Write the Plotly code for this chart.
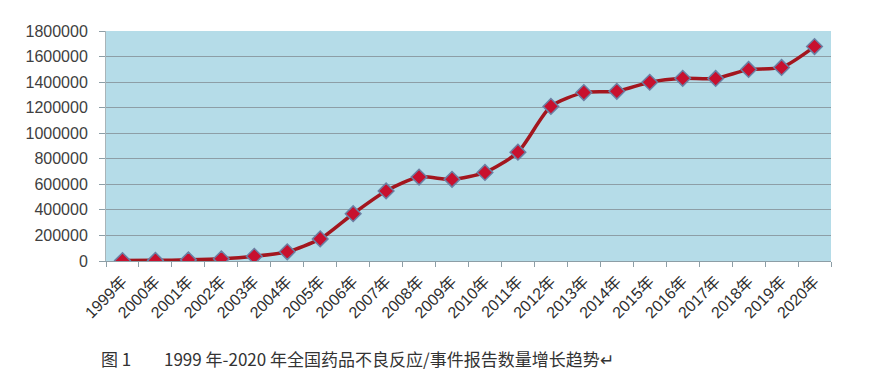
import plotly.graph_objects as go

years = ["1999年", "2000年", "2001年", "2002年", "2003年", "2004年", "2005年", "2006年",
         "2007年", "2008年", "2009年", "2010年", "2011年", "2012年", "2013年", "2014年",
         "2015年", "2016年", "2017年", "2018年", "2019年", "2020年"]
reports = [3000, 5000, 9000, 17000, 37000, 72000, 173000, 370000,
           548000, 657000, 639000, 693000, 852000, 1210000, 1318000, 1328000,
           1399000, 1430000, 1429000, 1499000, 1515000, 1678000]
y_ticks = [0, 200000, 400000, 600000, 800000, 1000000, 1200000, 1400000, 1600000, 1800000]
caption_fig = "图 1"
caption_text = "1999 年-2020 年全国药品不良反应/事件报告数量增长趋势↵"

# page body has an 8px margin; the figure is drawn offset by it
OFF = 8
W, H = 889 - OFF, 387 - OFF
ML, MT, MR = 106 - OFF, 31 - OFF, 58
MB = H - (261 - OFF)
PW, PH = W - ML - MR, H - MT - MB

fig = go.Figure()
fig.add_trace(go.Scatter(
    x=years, y=reports, mode="lines+markers",
    line=dict(color="#a3161e", width=3.5, shape="spline", smoothing=0.7),
    marker=dict(symbol="diamond", size=12, color="#c8102e",
                line=dict(color="#6b7fa3", width=1.5)),
    showlegend=False, hoverinfo="x+y",
))

fig.update_layout(
    width=W, height=H,
    margin=dict(l=ML, r=MR, t=MT, b=MB, pad=0),
    paper_bgcolor="white", plot_bgcolor="#b5dce8",
    font=dict(family="Liberation Sans, Arial, Noto Sans CJK SC", color="#404040"),
)
fig.update_yaxes(
    range=[0, 1800000], tickvals=y_ticks, tickformat="d",
    showgrid=True, gridcolor="#8d9ea6", gridwidth=1,
    zeroline=False, showline=True, linecolor="#a9b4b8", linewidth=1,
    ticks="outside", ticklen=6, tickcolor="#8d9ea6",
    tickfont=dict(size=16, color="#404040"), ticklabelstandoff=8,
)
fig.update_xaxes(
    type="category", range=[-0.5, len(years) - 0.5],
    showgrid=False, zeroline=False, showline=True, linecolor="#8d9ea6", linewidth=1,
    ticks="outside", ticklen=5, tickcolor="#8d9ea6", tickson="boundaries",
    tickangle=-45, ticklabelstandoff=4,
    tickfont=dict(size=16, color="#2e2e2e",
                  family="Liberation Sans, Arial, Noto Sans CJK SC"),
)

cap_y = (MT + PH - (358 - OFF)) / PH
fig.add_annotation(
    text=caption_fig, xref="paper", yref="paper",
    x=(99 - 106) / PW, y=cap_y, xanchor="left", yanchor="middle", showarrow=False,
    font=dict(size=17, color="#333333", family="Noto Sans CJK SC"),
)
fig.add_annotation(
    text=caption_text, xref="paper", yref="paper",
    x=(162 - 106) / PW, y=cap_y, xanchor="left", yanchor="middle", showarrow=False,
    font=dict(size=17, color="#333333", family="Noto Sans CJK SC"),
)

fig.write_html("out.html")
